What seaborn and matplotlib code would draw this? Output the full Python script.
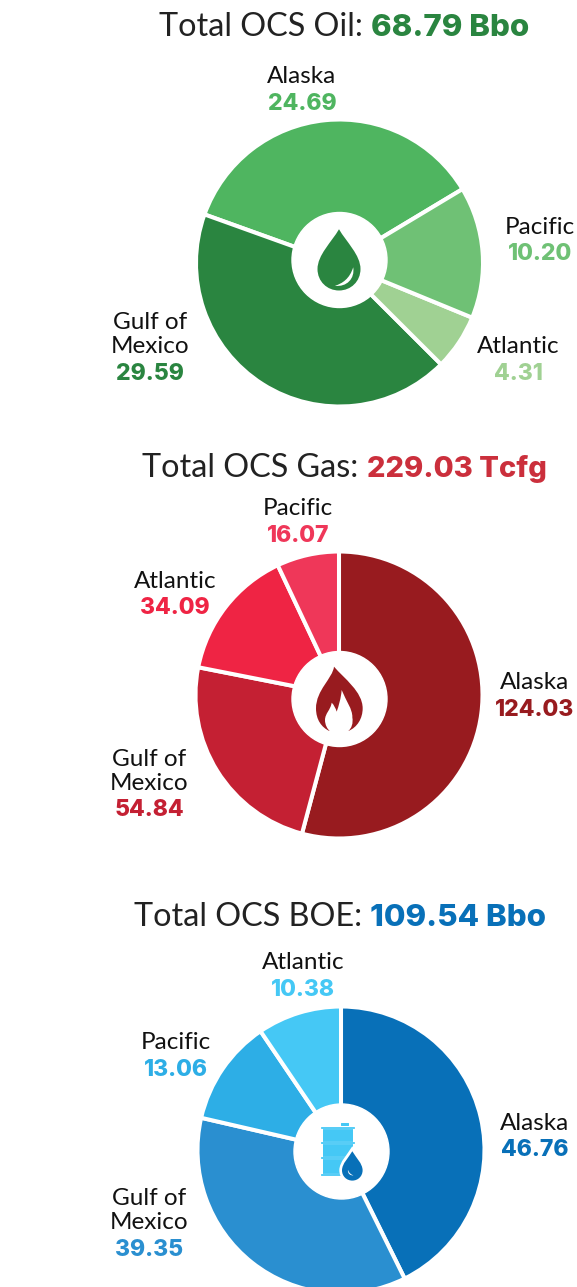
import matplotlib
matplotlib.use('Agg')
import matplotlib.pyplot as plt
import seaborn as sns
from matplotlib.patches import Circle, PathPatch, Rectangle, FancyBboxPatch
from matplotlib.path import Path

W, H = 577, 1287

oil_labels = ['Alaska', 'Gulf of\nMexico', 'Atlantic', 'Pacific']
oil_values = [24.69, 29.59, 4.31, 10.20]
oil_colors = ['#4fb560', '#2a8540', '#a0d193', '#6fc175']

gas_labels = ['Alaska', 'Gulf of\nMexico', 'Atlantic', 'Pacific']
gas_values = [124.03, 54.84, 34.09, 16.07]
gas_colors = ['#981b1f', '#c42033', '#ef2444', '#ef3759']

boe_labels = ['Alaska', 'Gulf of\nMexico', 'Pacific', 'Atlantic']
boe_values = [46.76, 39.35, 13.06, 10.38]
boe_colors = ['#0870b8', '#2a8fd0', '#2daee6', '#45c8f5']

sns.set_theme(style='white')
plt.rcParams['font.family'] = ['Lato', 'DejaVu Sans']

fig = plt.figure(figsize=(W / 100, H / 100), dpi=100)
ax = fig.add_axes([0, 0, 1, 1])


def y_(y):
    return H - y


def donut(values, colors, cx, cy, start, clockwise, hole_xy):
    ax.pie(values, colors=colors, startangle=start, counterclock=not clockwise,
           center=(cx, y_(cy)), radius=143.5, frame=True,
           wedgeprops={'edgecolor': 'white', 'linewidth': 2.9})
    ax.add_patch(Circle((hole_xy[0], y_(hole_xy[1])), 47.5, color='white', zorder=5))


def title(x, y, text, bold, color, gap=5.5, size=22.5):
    t = ax.text(x, y_(y), text, fontsize=23.3, color='#222222', va='center', ha='left')
    ax.annotate(bold, xy=(1, 0), xycoords=t, xytext=(gap, 0), textcoords='offset points',
                fontsize=size, color=color, fontweight='heavy', family='Inter',
                va='bottom', ha='left')


def label(x, y, name, value, color):
    # y is the centre of the value line, the name sits above it
    ax.text(x, y_(y + 1.5), f'{value:.2f}', fontsize=16.5, fontweight='heavy', family='Inter',
            color=color, ha='center', va='center')
    ax.text(x, y_(y - 15), name, fontsize=17.5, color='#111111', ha='center', va='bottom',
            linespacing=1.2)


def drop(cx, cy, s, color, zorder=6):
    # teardrop, s = half width in pixels, cy = centre of the round part
    verts = [(0, 1.85), (-0.35, 1.25), (-1, 0.65), (-1, 0), (-1, -0.58), (-0.55, -1),
             (0, -1), (0.55, -1), (1, -0.58), (1, 0), (1, 0.65), (0.35, 1.25), (0, 1.85)]
    codes = [Path.MOVETO] + [Path.CURVE4] * 12
    path = Path([(cx + s * a, y_(cy) + s * b) for a, b in verts], codes)
    ax.add_patch(PathPatch(path, facecolor=color, edgecolor='none', zorder=zorder))


def glint(cx, cy, s, color, zorder=7, flip=1):
    verts = [(0.66, 0.08), (0.75, -0.45), (0.35, -0.85), (-0.19, -0.78),
             (0.15, -0.68), (0.5, -0.45), (0.66, 0.08)]
    codes = [Path.MOVETO] + [Path.CURVE4] * 6
    path = Path([(cx + flip * s * a, y_(cy) + s * b) for a, b in verts], codes)
    ax.add_patch(PathPatch(path, facecolor=color, edgecolor='none', zorder=zorder))


def flame(x0, y0, color):
    def pt(a, b):
        return (x0 + a / 3, y_(y0 + b / 3))

    outer = [(192, 110), (188, 145), (138, 180), (138, 235), (138, 270), (155, 292), (178, 303),
             (197, 303), (216, 303), (235, 303), (262, 292), (278, 265), (278, 235),
             (278, 185), (222, 145), (192, 110)]
    inner = [(215, 180), (213, 205), (206, 228), (200, 245), (197, 235), (192, 225), (185, 218),
             (182, 240), (165, 250), (165, 270), (165, 285), (172, 297), (180, 304),
             (198, 304), (216, 304), (234, 304), (245, 295), (250, 280), (247, 262),
             (248, 238), (228, 212), (215, 180)]
    for verts, c, z in ((outer, color, 6), (inner, 'white', 7)):
        codes = [Path.MOVETO] + [Path.CURVE4] * (len(verts) - 1)
        ax.add_patch(PathPatch(Path([pt(a, b) for a, b in verts], codes),
                               facecolor=c, edgecolor='none', zorder=z))


def barrel(color, drop_color):
    ax.add_patch(Rectangle((322.7, y_(1176)), 30.6, 48, facecolor=color, edgecolor='none', zorder=6))
    for hy in (1128, 1143, 1158, 1175):
        ax.add_patch(Rectangle((320.7, y_(hy) - 1.2), 34.3, 2.4, facecolor=color,
                               edgecolor='white', linewidth=0.15, zorder=6))
    ax.add_patch(FancyBboxPatch((341.5, y_(1125.5)), 7, 2, boxstyle='round,pad=0.5',
                                facecolor=color, edgecolor='none', zorder=6))
    drop(352.3, 1170.3, 13, 'white', zorder=7)
    drop(352.3, 1170.3, 10.3, drop_color, zorder=8)
    glint(352.3, 1170.3, 6.5, 'white', zorder=9, flip=-1)


# oil
donut(oil_values, oil_colors, 339.5, 263, 31, False, (339.5, 260))
title(159, 27, 'Total OCS Oil:', '68.79 Bbo', oil_colors[1])
label(302, 102, oil_labels[0], oil_values[0], oil_colors[0])
label(150, 372, oil_labels[1], oil_values[1], oil_colors[1])
label(518, 372, oil_labels[2], oil_values[2], oil_colors[2])
label(540, 253, oil_labels[3], oil_values[3], oil_colors[3])
drop(339, 269, 21.5, oil_colors[1])
glint(339, 269, 21.5, 'white')

# gas
donut(gas_values, gas_colors, 339, 695, 90, True, (339.5, 699))
title(142, 468, 'Total OCS Gas:', '229.03 Tcfg', '#cb2f3c', gap=6, size=21)
label(535, 708, gas_labels[0], gas_values[0], gas_colors[0])
label(149, 809, gas_labels[1], gas_values[1], gas_colors[1])
label(175, 607, gas_labels[2], gas_values[2], gas_colors[2])
label(298, 534, gas_labels[3], gas_values[3], gas_colors[3])
flame(270, 630, gas_colors[0])

# boe
donut(boe_values, boe_colors, 341, 1150, 90, True, (341.5, 1151.5))
title(134, 917, 'Total OCS BOE:', '109.54 Bbo', boe_colors[0])
label(535, 1149, boe_labels[0], boe_values[0], boe_colors[0])
label(149, 1248, boe_labels[1], boe_values[1], boe_colors[1])
label(176, 1068, boe_labels[2], boe_values[2], boe_colors[2])
label(303, 988, boe_labels[3], boe_values[3], boe_colors[3])
barrel(boe_colors[3], boe_colors[0])

ax.set_xlim(0, W)
ax.set_ylim(0, H)
ax.set_aspect('equal')
ax.axis('off')

fig.savefig('out.png', dpi=100, facecolor='white')
